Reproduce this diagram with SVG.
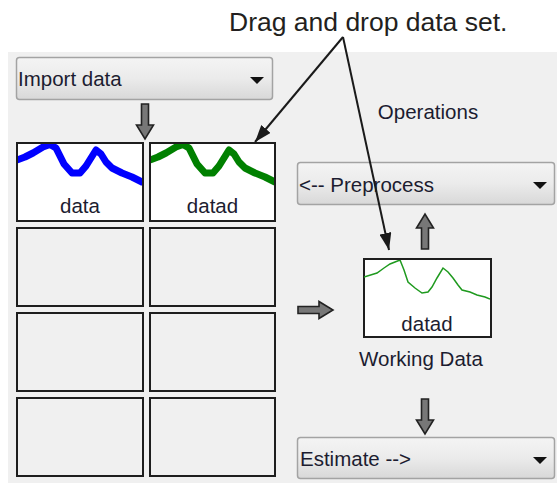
<svg xmlns="http://www.w3.org/2000/svg" width="557" height="485" viewBox="0 0 557 485">
  <defs>
    <style>
      .ui { font-family: "Liberation Sans", Arial, sans-serif; font-size: 20.5px; fill: #1c1c30; }
      .title { font-family: "Liberation Sans", Arial, sans-serif; font-size: 26.5px; fill: #231f20; }
      .dd { fill: url(#ddgrad); stroke: #a3a3a3; stroke-width: 1.5; }
      .ddtri { fill: #111; }
      .cell { fill: #f0f0f0; stroke: #1e1e1e; stroke-width: 2; }
      .thumb { fill: #ffffff; stroke: #1e1e1e; stroke-width: 2; }
      .blk { fill: #777777; stroke: #222222; stroke-width: 1.6; stroke-linejoin: miter; }
      .ann { stroke: #1a1a1a; stroke-width: 2; fill: none; }
      .thick { fill: none; stroke-width: 7; stroke-linejoin: round; stroke-linecap: butt; }
    </style>
    <linearGradient id="ddgrad" x1="0" y1="0" x2="0" y2="1">
      <stop offset="0" stop-color="#f4f4f4"/>
      <stop offset="0.5" stop-color="#ebebeb"/>
      <stop offset="1" stop-color="#d8d8d8"/>
    </linearGradient>
    <marker id="ah" markerUnits="userSpaceOnUse" markerWidth="18" markerHeight="12" refX="17" refY="6" orient="auto">
      <path d="M0,0 L17,6 L0,12 Z" fill="#1a1a1a"/>
    </marker>
    <path id="barrow" d="M -3.5 0 H 3.5 V 21 H 8.5 L 0 35 L -8.5 21 H -3.5 Z"/>
    <clipPath id="c1"><rect x="18" y="144" width="124" height="76"/></clipPath>
    <clipPath id="c2"><rect x="151" y="144" width="123" height="76"/></clipPath>
    <clipPath id="c3"><rect x="364" y="260" width="126" height="76"/></clipPath>
    <path id="curve" d="M17,160 L25,157 L33,153 L43,147 L50,144.5 L56,148 L60,156 L64,164 L72,173 L80,173 L86,166 L91,158 L96,150 L101,154 L106,162 L112,168 L122,173 L132,177 L142,182 L146,183"/>
  </defs>

  <!-- panel background -->
  <rect x="8" y="52" width="549" height="431" fill="#f0f0f0"/>

  <!-- title -->
  <text class="title" x="229" y="31">Drag and drop data set.</text>

  <g id="import-dropdown">
    <rect class="dd" x="16.5" y="57.5" width="256" height="42" rx="3"/>
    <text class="ui" x="18" y="86">Import data</text>
    <path class="ddtri" d="M250,77 H264 L257,84 Z"/>
  </g>

  <g id="cell-data">
    <rect class="thumb" x="17" y="143" width="126" height="78"/>
    <g clip-path="url(#c1)">
      <use href="#curve" class="thick" stroke="#0000ff"/>
    </g>
    <text class="ui" x="80" y="213" text-anchor="middle">data</text>
  </g>
  <g id="cell-datad">
    <rect class="thumb" x="150" y="143" width="125" height="78"/>
    <g clip-path="url(#c2)">
      <use href="#curve" class="thick" stroke="#008000" transform="translate(133,0)"/>
    </g>
    <text class="ui" x="212.5" y="213" text-anchor="middle">datad</text>
  </g>
  <g id="cell-r2c1"><rect class="cell" x="17" y="228" width="126" height="78"/></g>
  <g id="cell-r2c2"><rect class="cell" x="150" y="228" width="125" height="78"/></g>
  <g id="cell-r3c1"><rect class="cell" x="17" y="313" width="126" height="78"/></g>
  <g id="cell-r3c2"><rect class="cell" x="150" y="313" width="125" height="78"/></g>
  <g id="cell-r4c1"><rect class="cell" x="17" y="398" width="126" height="78"/></g>
  <g id="cell-r4c2"><rect class="cell" x="150" y="398" width="125" height="78"/></g>

  <g id="operations-label">
    <text class="ui" x="428" y="119" text-anchor="middle">Operations</text>
  </g>

  <g id="preprocess-dropdown">
    <rect class="dd" x="297.5" y="162.5" width="257" height="42" rx="3"/>
    <text class="ui" x="299" y="192">&lt;-- Preprocess</text>
    <path class="ddtri" d="M533,182 H547 L540,189 Z"/>
  </g>

  <g id="working-data">
    <rect class="thumb" x="364" y="259" width="127" height="78"/>
    <path d="M364,277 L377,273 L384,268 L390,264 L395,262 L400,260 L404,270 L408,282 L415,288 L422,293 L428,292 L432,287 L437,278 L443,268 L448,272 L453,278 L458,285 L462,290 L470,292 L477,295 L485,297 L490,299" fill="none" stroke="#1f9a1f" stroke-width="1.5" clip-path="url(#c3)"/>
    <text class="ui" x="427" y="331" text-anchor="middle">datad</text>
    <text class="ui" x="421" y="366" text-anchor="middle">Working Data</text>
  </g>

  <g id="estimate-dropdown">
    <rect class="dd" x="297.5" y="437.5" width="257" height="41" rx="3"/>
    <text class="ui" x="300" y="466">Estimate --&gt;</text>
    <path class="ddtri" d="M533,457 H547 L540,464 Z"/>
  </g>

  <g id="connectors">
    <use href="#barrow" class="blk" transform="translate(145,104)"/>
    <use href="#barrow" class="blk" transform="translate(425,249) rotate(180)"/>
    <use href="#barrow" class="blk" transform="translate(298,310) rotate(-90)"/>
    <use href="#barrow" class="blk" transform="translate(425,399)"/>
    <line class="ann" x1="343" y1="37" x2="255" y2="142" marker-end="url(#ah)"/>
    <line class="ann" x1="343" y1="37" x2="389" y2="250" marker-end="url(#ah)"/>
  </g>
</svg>
